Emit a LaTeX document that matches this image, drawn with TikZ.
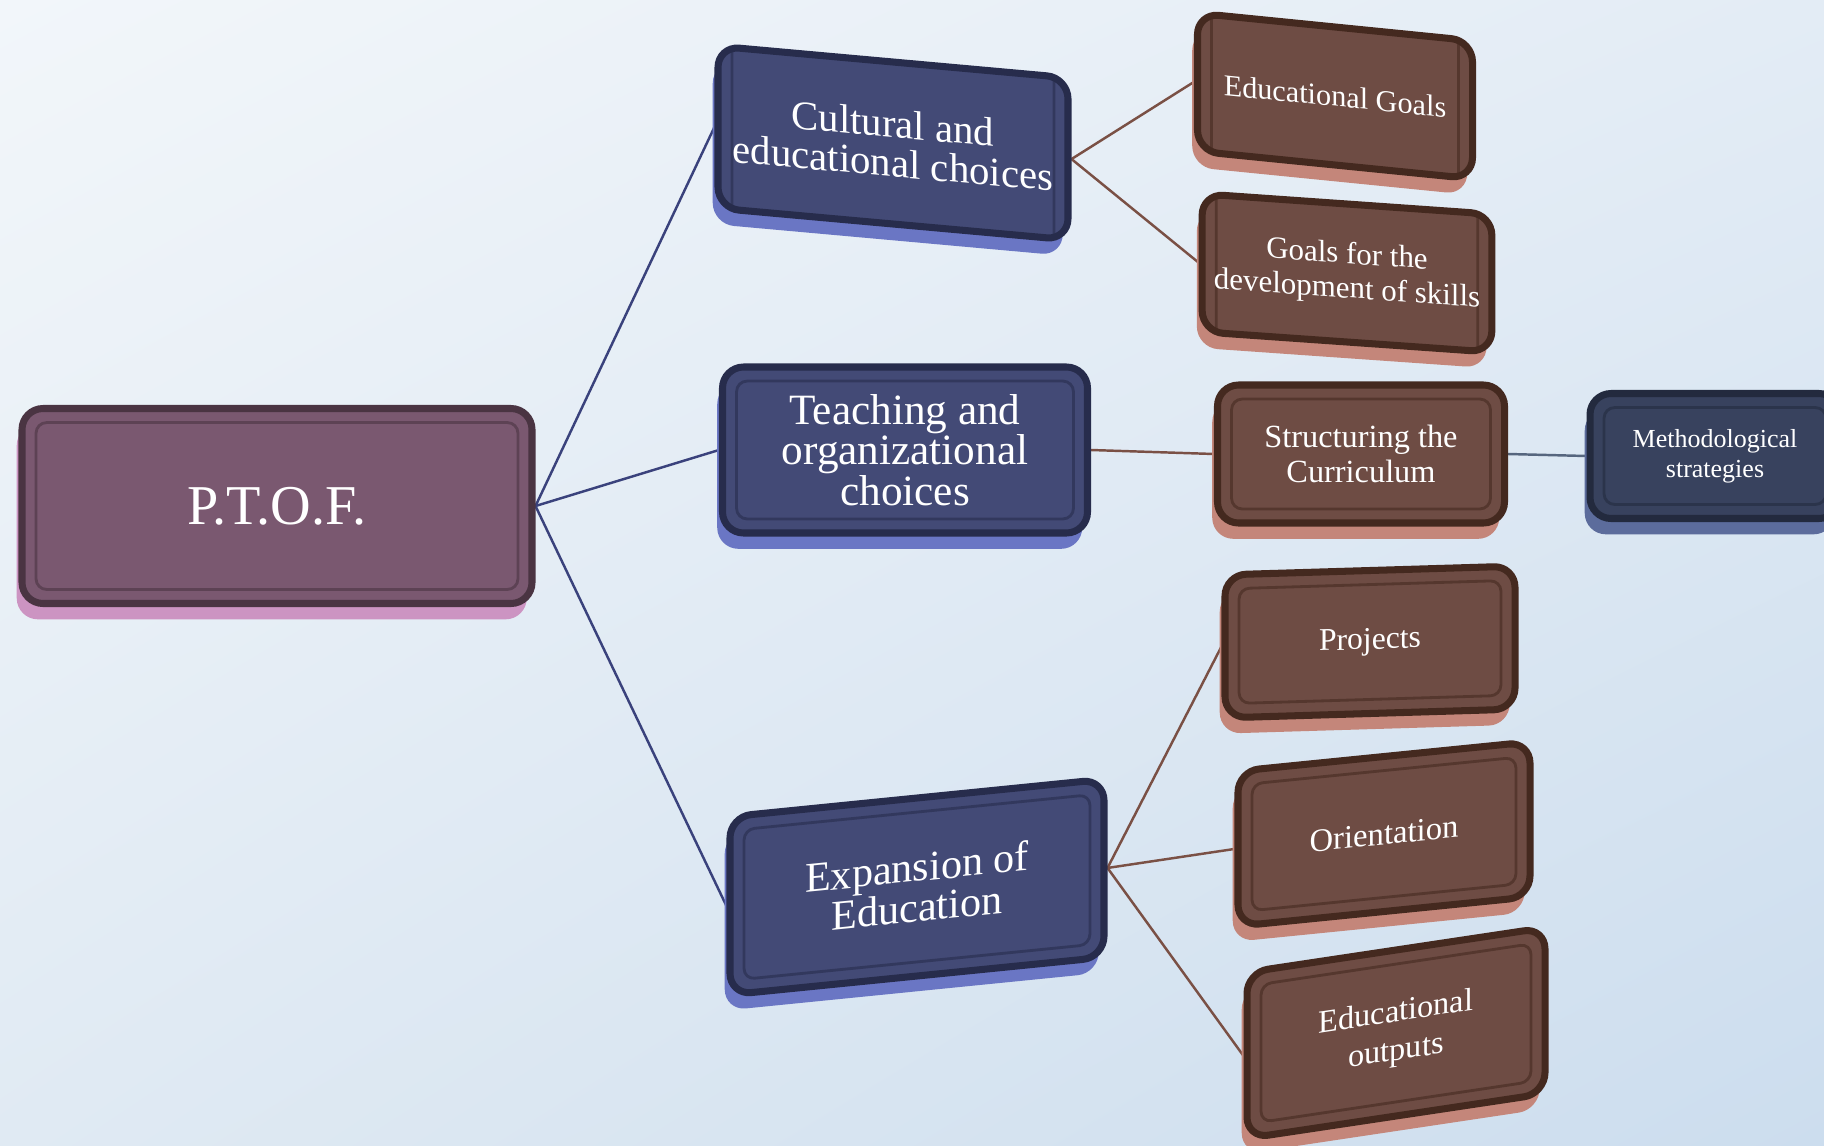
\documentclass[tikz,border=0pt]{standalone}
\usepackage{xcolor}
\usepackage{tikz}
\usepackage{fontspec}
\setmainfont{Liberation Serif}
\usetikzlibrary{shadows, shadings, shapes, positioning, backgrounds}

\definecolor{bgUL}{HTML}{F2F6FA}
\definecolor{bgUR}{HTML}{E3ECF5}
\definecolor{bgLL}{HTML}{E0EAF3}
\definecolor{bgLR}{HTML}{CCDDEE}
\definecolor{plumFace}{HTML}{7A5870}
\definecolor{plumDark}{HTML}{4A3442}
\definecolor{plumLight}{HTML}{CC94C2}
\definecolor{blueFace}{HTML}{434A76}
\definecolor{blueDark}{HTML}{272C4C}
\definecolor{blueLight}{HTML}{6A76C4}
\definecolor{brownFace}{HTML}{6E4C44}
\definecolor{brownDark}{HTML}{44291F}
\definecolor{brownLight}{HTML}{C4867A}
\definecolor{navyFace}{HTML}{38425E}
\definecolor{navyDark}{HTML}{232A3E}
\definecolor{navyLight}{HTML}{5C6C9C}
\definecolor{blueLine}{HTML}{3A427C}
\definecolor{brownLine}{HTML}{7A5045}
\definecolor{grayLine}{HTML}{56667E}

\tikzset{
  slab/.style n args={3}{rectangle, rounded corners=6pt, fill=#1, draw=#2,
    line width=2pt, text=white, align=center, transform shape,
    general shadow={fill=#3, shadow xshift=-1.5pt, shadow yshift=-4.5pt},
    path picture={\draw[#2!60!#1, line width=0.8pt, rounded corners=3pt]
      ([shift={(4pt,4pt)}]path picture bounding box.south west) rectangle
      ([shift={(-4pt,-4pt)}]path picture bounding box.north east);}},
  rootbox/.style={slab={plumFace}{plumDark}{plumLight}},
  bluebox/.style={slab={blueFace}{blueDark}{blueLight}},
  brownbox/.style={slab={brownFace}{brownDark}{brownLight}},
  navybox/.style={slab={navyFace}{navyDark}{navyLight}},
}

\begin{document}
\begin{tikzpicture}
  \useasboundingbox (0,0) rectangle (18.24,-11.46);

  % left and middle column
  \node[rootbox, shift={(2.77,-5.06)}, minimum width=5.1cm, minimum height=1.95cm,
        font=\fontsize{16}{18}\selectfont] (ptof) {P.T.O.F.};
  \node[bluebox, shift={(8.93,-1.43)}, yslant=-0.09, minimum width=3.5cm, minimum height=1.62cm,
        font=\fontsize{11.6}{11.2}\selectfont] (cult) {Cultural and\\educational choices};
  \node[bluebox, shift={(9.05,-4.50)}, minimum width=3.65cm, minimum height=1.66cm,
        font=\fontsize{12.3}{11.6}\selectfont] (teach) {Teaching and\\organizational\\choices};
  \node[bluebox, shift={(9.17,-8.87)}, yslant=0.1, minimum width=3.74cm, minimum height=1.78cm,
        font=\fontsize{12}{11.5}\selectfont] (expan) {Expansion of\\Education};

  % right column
  \node[brownbox, shift={(13.35,-0.96)}, yslant=-0.1, minimum width=2.75cm, minimum height=1.38cm,
        font=\fontsize{8.6}{9.3}\selectfont] (edgoal) {Educational Goals};
  \node[brownbox, shift={(13.47,-2.73)}, yslant=-0.07, minimum width=2.8cm, minimum height=1.38cm,
        font=\fontsize{8.8}{9.8}\selectfont] (skill) {Goals for the\\development of skills};
  \node[brownbox, shift={(13.61,-4.54)}, minimum width=2.87cm, minimum height=1.38cm,
        font=\fontsize{9.2}{9.8}\selectfont] (curri) {Structuring the\\Curriculum};
  \node[navybox, shift={(17.15,-4.56)}, minimum width=2.5cm, minimum height=1.25cm,
        font=\fontsize{7.4}{8.6}\selectfont] (method) {Methodological\\strategies};
  \node[brownbox, shift={(13.70,-6.42)}, yslant=0.03, minimum width=2.9cm, minimum height=1.43cm,
        font=\fontsize{9}{10}\selectfont] (proj) {Projects};
  \node[brownbox, shift={(13.84,-8.34)}, yslant=0.1, minimum width=2.92cm, minimum height=1.55cm,
        font=\fontsize{9.3}{10}\selectfont] (orient) {Orientation};
  \node[brownbox, shift={(13.96,-10.33)}, yslant=0.15, minimum width=2.98cm, minimum height=1.66cm,
        font=\fontsize{9.2}{11}\selectfont] (output) {Educational\\outputs};

  \begin{scope}[on background layer, every edge/.style={draw, line width=0.7pt}]
    \shade[upper left=bgUL, upper right=bgUR, lower left=bgLL, lower right=bgLR]
      (0,0) rectangle (18.24,-11.46);
    \path[blueLine] (ptof.east) edge (cult.west)
                    (ptof.east) edge (teach.west)
                    (ptof.east) edge (expan.west);
    \path[brownLine] (cult.east) edge (edgoal.west)
                     (cult.east) edge (skill.west)
                     (teach.east) edge (curri.west)
                     (expan.east) edge (proj.west)
                     (expan.east) edge (orient.west)
                     (expan.east) edge (output.west);
    \path[grayLine] (curri.east) edge (method.west);
  \end{scope}
\end{tikzpicture}
\end{document}
